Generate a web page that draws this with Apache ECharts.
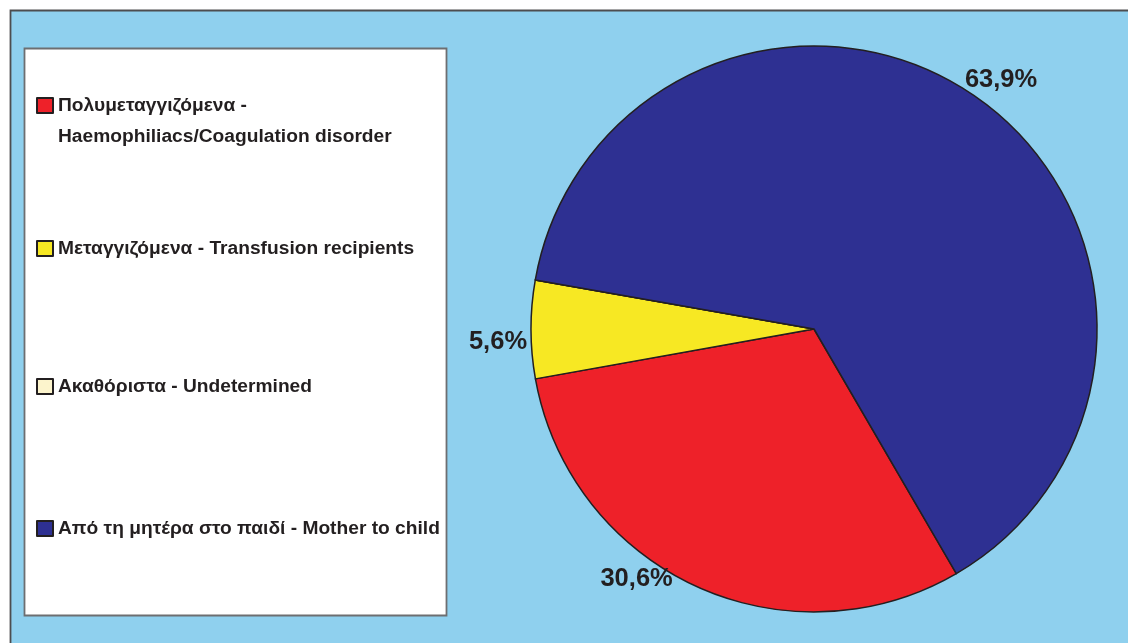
<!DOCTYPE html>
<html>
<head>
<meta charset="utf-8">
<script src="https://cdn.jsdelivr.net/npm/echarts@6/dist/echarts.min.js"></script>
<style>
html,body{margin:0;padding:0;background:#ffffff;}
#chart{width:1128px;height:643px;}
</style>
</head>
<body>
<div id="chart"></div>
<script>
// ---- data ----
const categories = [
  'Πολυμεταγγιζόμενα - Haemophiliacs/Coagulation disorder',
  'Μεταγγιζόμενα - Transfusion recipients',
  'Ακαθόριστα - Undetermined',
  'Από τη μητέρα στο παιδί - Mother to child'
];
const legendLines = [
  ['Πολυμεταγγιζόμενα -', 'Haemophiliacs/Coagulation disorder'],
  ['Μεταγγιζόμενα - Transfusion recipients'],
  ['Ακαθόριστα - Undetermined'],
  ['Από τη μητέρα στο παιδί - Mother to child']
];
const values = [30.6, 5.6, 0, 63.9];

// ---- styles ----
const colors = ['#EE2129', '#F7E823', '#FCF4CC', '#2E3092'];
const legendTops = [59, 239, 377, 519];
const labelNudge = [[-41, -34], [2, 13], [0, 0], [3, 8]];
const FONT = '"Liberation Sans", Arial, sans-serif';
const INK = '#231F20';
const LEGEND_SIZE = 19.2;

const chart = echarts.init(document.getElementById('chart'), null, {renderer: 'canvas'});

const legends = categories.map((name, i) => {
  const lines = legendLines[i];
  const multi = lines.length > 1;
  return {
    data: [name],
    orient: 'vertical',
    left: 36,
    top: legendTops[i],
    padding: 0,
    icon: 'rect',
    itemWidth: 16,
    itemHeight: 15,
    selectedMode: false,
    formatter: function () {
      if (multi) {
        return '{t| }\n{t|' + lines[0] + '}\n{t|' + lines[1] + '}';
      }
      return lines[0];
    },
    textStyle: {
      fontFamily: FONT,
      fontSize: LEGEND_SIZE,
      fontWeight: 'bold',
      color: INK,
      lineHeight: 15,
      rich: {
        t: {fontFamily: FONT, fontSize: LEGEND_SIZE, fontWeight: 'bold', color: INK, lineHeight: 31}
      }
    }
  };
});

const option = {
  animation: false,
  backgroundColor: '#ffffff',
  graphic: [
    {
      type: 'rect', z: -10,
      shape: {x: 10.5, y: 10.5, width: 1140, height: 660},
      style: {fill: '#8FD0EE', stroke: '#4D4D4F', lineWidth: 1.8}
    },
    {
      type: 'rect', z: -5,
      shape: {x: 24.5, y: 48.5, width: 422, height: 567},
      style: {fill: '#ffffff', stroke: '#6D6E71', lineWidth: 1.8}
    }
  ],
  legend: legends,
  series: [{
    type: 'pie',
    center: [814, 329],
    radius: 283,
    startAngle: -59.8,
    clockwise: true,
    avoidLabelOverlap: false,
    color: colors,
    itemStyle: {borderColor: INK, borderWidth: 1.5},
    emphasis: {disabled: true},
    label: {
      show: true,
      position: 'outside',
      fontFamily: FONT,
      fontSize: 25.5,
      fontWeight: 'bold',
      color: INK,
      formatter: function (p) {
        if (!p.value) return '';
        return p.value.toFixed(1).replace('.', ',') + '%';
      }
    },
    labelLine: {show: false, length: 30, length2: 0},
    labelLayout: function (p) {
      const n = labelNudge[p.dataIndex];
      return {align: 'center', verticalAlign: 'middle', dx: n[0], dy: n[1]};
    },
    data: categories.map((name, i) => ({name: name, value: values[i]}))
  }]
};

chart.setOption(option);
</script>
</body>
</html>
